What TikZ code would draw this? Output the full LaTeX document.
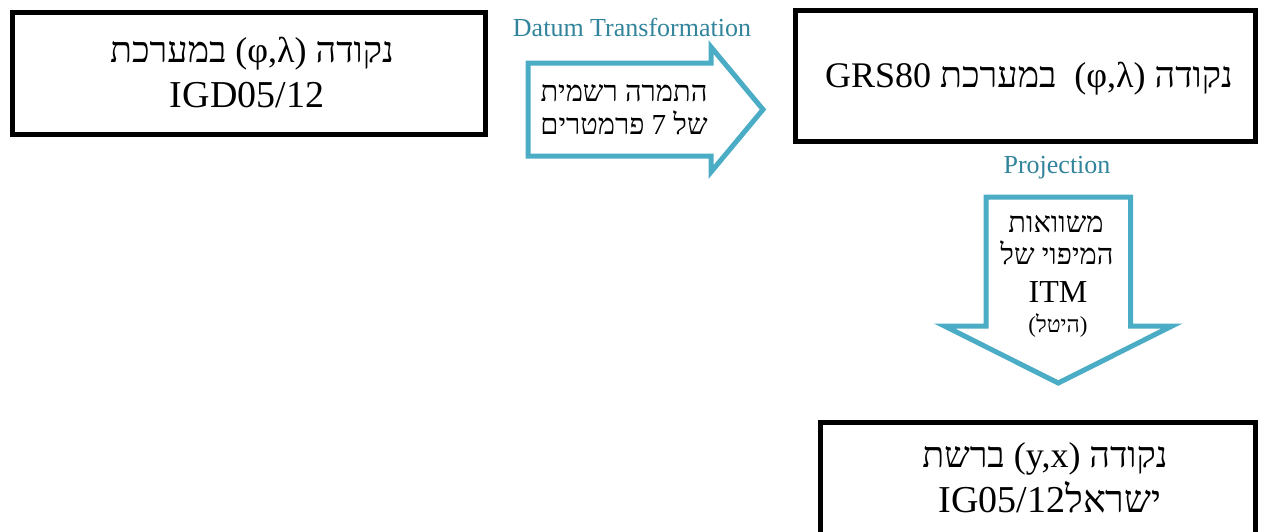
\documentclass[tikz,border=0pt]{standalone}
\usepackage{fontspec}
\setmainfont{Liberation Serif}
\newfontfamily\heb[Script=Hebrew]{Liberation Serif}
\TeXXeTstate=1
\definecolor{arrowc}{HTML}{4BACC6}
\definecolor{labelc}{HTML}{31849B}
\begin{document}
\begin{tikzpicture}[x=1pt,y=-1pt,
  box/.style={draw=black, line width=5pt, fill=white, inner sep=0pt},
  blockarrow/.style={draw=arrowc, line width=5pt, fill=white, line join=miter},
  lbl/.style={text=labelc, font=\fontsize{26}{30}\selectfont, anchor=base, inner sep=0pt},
  txt/.style={font=\heb\fontsize{38}{45}\selectfont, anchor=base, inner sep=0pt},
  htxt/.style={font=\heb\fontsize{36}{43}\selectfont, anchor=base, inner sep=0pt},
  atxt/.style={font=\heb\fontsize{29}{35}\selectfont, anchor=base, inner sep=0pt}]
\useasboundingbox (0,0) rectangle (1261,531);

% boxes
\node[box, minimum width=473pt, minimum height=122pt] (b1) at (249,73.5) {};
\node[box, minimum width=460pt, minimum height=131pt] (b2) at (1025.5,76) {};
\node[box, minimum width=435pt, minimum height=137.5pt] (b3) at (1038,491.25) {};

\node[htxt] (b1a) at (252,62) {\beginR נקודה \beginL(φ,λ)\endL{} במערכת\endR};
\node[txt] (b1b) at (247,107) {IGD05/12};
\node[htxt] (b2a) at (1029,87) {\beginR נקודה \beginL(φ,λ)\endL\hspace{0.25em} במערכת \beginL GRS80\endL\endR};
\node[htxt] (b3a) at (1045,467) {\beginR נקודה \beginL(y,x)\endL{} ברשת\endR};
\node[txt] (b3b) at (1050,512) {\beginR ישראל\beginL IG05/12\endL\endR};

% datum transformation arrow
\draw[blockarrow] (528,63) -- (711,63) -- (711,47) -- (763,109.5) -- (711,172) -- (711,156) -- (528,156) -- cycle;
\node[lbl] (lab1) at (632,36.7) {Datum Transformation};
\node[atxt] (a1a) at (624,101) {\beginR התמרה רשמית\endR};
\node[atxt] (a1b) at (624,134) {\beginR של 7 פרמטרים\endR};

% projection arrow
\draw[blockarrow] (986,197) -- (1130.5,197) -- (1130.5,326) -- (1172,326) -- (1058.25,383) -- (944.5,326) -- (986,326) -- cycle;
\node[lbl] (lab2) at (1057,173.3) {Projection};
\node[atxt] (a2a) at (1056,232) {\beginR משוואות\endR};
\node[atxt] (a2b) at (1057,264) {\beginR המיפוי של\endR};
\node[font=\fontsize{32}{38}\selectfont, anchor=base, inner sep=0pt] (a2c) at (1058,302) {ITM};
\node[font=\heb\fontsize{23}{28}\selectfont, anchor=base, inner sep=0pt] (a2d) at (1058,332) {\beginR(היטל)\endR};
\end{tikzpicture}
\end{document}
